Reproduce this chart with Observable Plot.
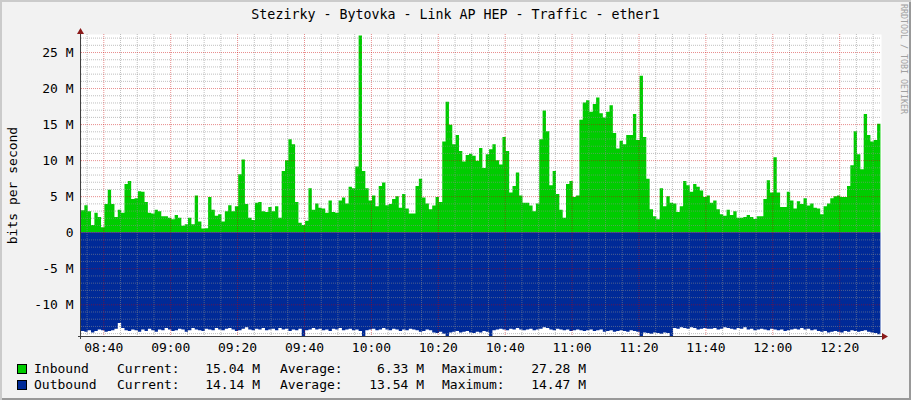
<!DOCTYPE html>
<html>
<head>
<meta charset="utf-8">
<script src="https://cdn.jsdelivr.net/npm/d3@7"></script>
<script src="https://cdn.jsdelivr.net/npm/@observablehq/plot@0.6"></script>
<style>
  html, body { margin: 0; padding: 0; background: #ffffff; }
  #wrap {
    position: relative; width: 911px; height: 400px; overflow: hidden;
    background: #f2f2f2;
    box-shadow: inset 2px 2px 0 #cbcbcb, inset -2px -2px 0 #999999;
    font-family: "DejaVu Sans Mono", monospace; font-size: 13px; color: #000;
  }
  #chart { position: absolute; left: 0; top: 0; }
  #title {
    position: absolute; left: 0; top: 6.5px; width: 911px; text-align: center;
    font-size: 13.3px; line-height: 16px; white-space: pre;
  }
  #mark {
    position: absolute; left: 899px; top: 4px; writing-mode: vertical-rl;
    font-size: 8.3px; line-height: 10px; color: #a0a0a0; white-space: pre;
  }
  .lg { position: absolute; line-height: 16px; white-space: pre; }
  .sw { position: absolute; width: 8px; height: 8px; border: 1px solid #000; }
</style>
</head>
<body>
<div id="wrap">
  <div id="title"></div>
  <div id="mark"></div>
  <div id="chart"></div>
</div>
<script>
// ---------- data ----------
const titleText = "Stezirky - Bytovka - Link AP HEP - Traffic - ether1";
const watermark = "RRDTOOL / TOBI OETIKER";
const yAxisLabel = "bits per second";
const startTime = [8, 33, 20];   // first sample (hh, mm, ss)
const stepMinutes = 1;

// Inbound traffic, Mbit/s, one value per minute
const inbound = [
  3.06, 3.75, 2.9, 1.0, 2.7, 2.1, 0.7, 3.9, 5.9, 3.9,
  2.1, 3.1, 2.7, 6.7, 7.1, 4.6, 4.7, 5.7, 5.6, 4.2,
  2.7, 2.6, 3.1, 2.9, 2.2, 2.2, 2.0, 1.8, 2.4, 2.0,
  0.9, 1.1, 2.0, 1.1, 5.1, 1.5, 0.5, 0.55, 4.9, 3.1,
  2.3, 2.5, 1.5, 2.9, 3.75, 2.9, 3.6, 8.05, 10.1, 3.9,
  2.0, 1.7, 4.1, 4.2, 2.9, 2.8, 3.5, 2.9, 3.6, 2.0,
  8.5, 10.0, 12.9, 12.2, 4.2, 1.3, 1.0, 1.6, 6.1, 3.1,
  4.0, 3.4, 3.3, 2.7, 4.4, 2.8, 2.7, 4.4, 4.8, 4.0,
  6.3, 6.1, 9.1, 27.28, 8.5, 6.1, 4.4, 5.1, 3.6, 6.4,
  6.9, 3.75, 3.9, 4.6, 5.0, 3.4, 5.3, 3.3, 2.6, 2.6,
  6.4, 7.4, 4.8, 4.0, 3.2, 3.7, 4.9, 4.2, 12.6, 18.1,
  14.9, 12.2, 13.5, 11.25, 9.8, 10.7, 10.9, 10.6, 9.9, 11.7,
  8.9, 10.8, 11.5, 12.2, 10.0, 9.4, 13.2, 11.25, 5.5, 6.4,
  8.3, 5.1, 4.1, 4.1, 3.7, 2.9, 4.0, 12.9, 16.9, 14.0,
  6.5, 8.5, 5.3, 3.1, 2.0, 6.7, 7.1, 4.9, 5.1, 15.6,
  18.0, 18.3, 16.7, 17.8, 18.7, 16.5, 15.9, 16.7, 17.6, 13.75,
  11.6, 12.7, 12.2, 13.5, 13.5, 16.4, 12.8, 21.7, 13.2, 7.4,
  3.2, 2.2, 1.8, 6.1, 3.6, 5.0, 4.1, 4.0, 2.8, 3.6,
  7.1, 6.5, 5.6, 6.7, 6.3, 5.8, 4.9, 5.1, 4.1, 4.4,
  3.2, 2.5, 2.3, 3.1, 2.4, 2.9, 2.0, 2.0, 2.1, 2.4,
  2.1, 1.85, 2.2, 2.2, 4.6, 7.2, 5.5, 10.4, 5.5, 3.5,
  3.5, 5.6, 4.4, 3.3, 4.3, 3.9, 4.7, 3.7, 4.0, 3.4,
  3.3, 2.5, 3.6, 4.0, 4.7, 5.0, 5.1, 4.9, 4.9, 6.4,
  9.3, 14.0, 10.8, 8.75, 16.4, 13.5, 12.6, 12.8, 15.04
];

// Outbound traffic, Mbit/s (drawn below zero), one value per minute
const outbound = [
  13.7, 13.8, 13.6, 13.9, 13.7, 13.5, 13.6, 13.8, 13.7, 13.6,
  13.4, 12.6, 13.3, 13.6, 13.7, 13.5, 13.6, 13.8, 13.5, 13.7,
  13.4, 13.6, 13.8, 13.5, 13.6, 13.3, 13.5, 13.7, 13.6, 13.4,
  13.5, 13.8, 13.6, 13.3, 13.5, 13.6, 13.7, 13.4, 13.5, 13.6,
  13.3, 13.5, 13.6, 13.4, 13.3, 13.5, 13.7, 13.6, 13.4, 13.2,
  13.5, 13.6, 13.4, 13.5, 13.3, 13.6, 13.5, 13.4, 13.6, 13.3,
  13.5, 13.4, 13.7, 13.5, 13.6, 13.4, 14.4, 13.6, 13.5, 13.3,
  13.5, 13.4, 13.6, 13.5, 13.7, 13.4, 13.5, 13.3, 13.6, 13.5,
  13.4, 13.6, 13.5, 13.7, 14.4, 13.6, 13.5, 13.4, 13.6, 13.5,
  13.3, 13.5, 13.6, 13.4, 13.5, 13.7, 13.5, 13.6, 13.4, 13.5,
  13.6, 13.8, 13.7, 13.5, 13.6, 13.9, 14.0, 13.8, 14.1, 14.4,
  13.9, 13.8, 13.7, 13.9, 13.8, 13.7, 13.9, 14.0, 13.8, 13.9,
  13.7, 13.8, 14.4, 13.6, 13.5, 13.4, 13.5, 13.6, 13.4, 13.5,
  13.3, 13.5, 13.6, 13.5, 13.4, 13.6, 13.5, 13.4, 13.2, 13.3,
  13.5, 13.6, 13.4, 13.5, 13.6, 13.5, 13.7, 13.6, 13.5, 13.6,
  13.7, 13.6, 13.5, 13.7, 13.6, 13.5, 13.8, 13.7, 13.6, 13.8,
  13.7, 13.6, 13.7, 13.8, 13.6, 13.7, 13.8, 14.4, 13.9, 14.0,
  14.1, 13.9, 14.0, 14.1, 13.9, 14.0, 14.4, 13.3, 13.4, 13.2,
  13.3, 13.4, 13.2, 13.3, 13.5, 13.4, 13.3, 13.4, 13.4, 13.3,
  13.5, 13.4, 13.2, 13.3, 13.4, 13.5, 13.3, 13.4, 13.2, 13.5,
  13.4, 13.6, 13.5, 13.4, 13.5, 13.6, 13.4, 13.5, 13.6, 13.5,
  13.7, 13.6, 13.5, 13.4, 13.5, 13.3, 13.5, 13.4, 13.6, 13.5,
  13.7, 13.8, 13.7, 13.9, 13.8, 13.7, 13.8, 13.9, 13.7, 13.8,
  13.6, 13.7, 13.8, 13.7, 13.6, 13.8, 13.9, 14.0, 14.14
];

const xTickLabels = ["08:40", "09:00", "09:20", "09:40", "10:00", "10:20",
                     "10:40", "11:00", "11:20", "11:40", "12:00", "12:20"];
const yTickValues = [-10, -5, 0, 5, 10, 15, 20, 25];

const seriesNames  = ["Inbound", "Outbound"];
const seriesColors = ["#00cc00", "#002a97"];
const currentText  = ["15.04 M", "14.14 M"];
const averageText  = ["6.33 M", "13.54 M"];
const maximumText  = ["27.28 M", "14.47 M"];

// ---------- build ----------
const day = (h, m, s = 0) => new Date(2024, 0, 15, h, m, s);
const t0 = day(...startTime);
const addMin = (t, k) => new Date(+t + k * stepMinutes * 60000);
const n = inbound.length;
const tEnd = new Date(+addMin(t0, n) + 10000);

function rows(values, sign) {
  const r = values.map((v, i) => ({t: addMin(t0, i), v: sign * v}));
  r.push({t: addMin(t0, values.length), v: sign * values[values.length - 1]});
  return r;
}
const inRows = rows(inbound, 1);
const outRows = rows(outbound, -1);

const xTicks = xTickLabels.map(s => day(+s.slice(0, 2), +s.slice(3, 5)));
const minorX = d3.timeMinute.every(5).range(t0, tEnd);
const yMin = -d3.max(outbound), yMax = 27.5;
const minorY = d3.range(Math.ceil(yMin), Math.floor(yMax) + 1);
const majorY = minorY.filter(d => d % 5 === 0);

const gridMinor = {stroke: "#8c8c8c", strokeOpacity: 0.55, strokeDasharray: "1,1"};
const gridMajor = {stroke: "#cc0000", strokeOpacity: 0.45, strokeDasharray: "1,1"};

const chart = Plot.plot({
  width: 911, height: 360,
  marginTop: 34, marginBottom: 24, marginLeft: 81, marginRight: 30,
  style: {background: "transparent", fontFamily: "'DejaVu Sans Mono', monospace", fontSize: "13px", color: "#000", overflow: "visible"},
  x: {type: "time", domain: [t0, tEnd]},
  y: {domain: [yMin, yMax]},
  marks: [
    Plot.frame({fill: "#ffffff", stroke: null}),
    Plot.areaY(inRows, {x: "t", y: "v", curve: "step-after", fill: seriesColors[0]}),
    Plot.areaY(outRows, {x: "t", y: "v", curve: "step-after", fill: seriesColors[1]}),
    Plot.ruleY(minorY.filter(d => d % 5 !== 0), gridMinor),
    Plot.ruleX(minorX.filter(d => d.getMinutes() % 20 !== 0), gridMinor),
    Plot.ruleY(majorY, gridMajor),
    Plot.ruleX(xTicks, gridMajor),
    Plot.axisX(xTicks, {tickSize: 0, tickPadding: 6, tickFormat: d3.timeFormat("%H:%M"), label: null, fill: "#000"}),
    Plot.axisY(yTickValues, {tickSize: 0, tickPadding: 8, tickFormat: d => d === 0 ? "0" : `${d} M`, label: null, fill: "#000"}),
    Plot.text([yAxisLabel], {frameAnchor: "left", dx: -69, rotate: -90, textAnchor: "middle", fontSize: 13, fill: "#000"})
  ]
});
document.getElementById("chart").appendChild(chart);

// axis lines and arrows (RRD style)
const xs = chart.scale("x"), ys = chart.scale("y");
const svg = d3.select(chart);
const xL = xs.apply(t0), xR = xs.apply(tEnd), yB = ys.apply(yMin), yT = ys.apply(yMax);
const g = svg.append("g");
g.append("line").attr("x1", xL - 3).attr("x2", xR + 2).attr("y1", yB + 0.5).attr("y2", yB + 0.5)
  .attr("stroke", "#404040").attr("stroke-width", 1);
g.append("line").attr("x1", xL - 0.5).attr("x2", xL - 0.5).attr("y1", yB + 3).attr("y2", yT - 2)
  .attr("stroke", "#404040").attr("stroke-width", 1);
g.append("path").attr("d", `M${xL - 0.5},${yT - 6} L${xL - 4},${yT} L${xL + 3},${yT} Z`).attr("fill", "#8b1a1a");
g.append("path").attr("d", `M${xR + 7},${yB + 0.5} L${xR + 1},${yB - 3} L${xR + 1},${yB + 4} Z`).attr("fill", "#8b1a1a");

// title, watermark
document.getElementById("title").textContent = titleText;
document.getElementById("mark").textContent = watermark;

// legend
const wrap = document.getElementById("wrap");
const baselines = [373, 389];
function addText(txt, opts) {
  const el = document.createElement("div");
  el.className = "lg";
  el.textContent = txt;
  Object.assign(el.style, opts);
  wrap.appendChild(el);
}
seriesNames.forEach((name, i) => {
  const top = baselines[i] - 12.5;
  const sw = document.createElement("div");
  sw.className = "sw";
  Object.assign(sw.style, {left: "17px", top: (baselines[i] - 9.5) + "px", background: seriesColors[i]});
  wrap.appendChild(sw);
  addText(name, {left: "34px", top: top + "px"});
  addText("Current:", {left: "117px", top: top + "px"});
  addText(currentText[i], {right: (911 - 260) + "px", top: top + "px"});
  addText("Average:", {left: "280px", top: top + "px"});
  addText(averageText[i], {right: (911 - 424) + "px", top: top + "px"});
  addText("Maximum:", {left: "442px", top: top + "px"});
  addText(maximumText[i], {right: (911 - 586) + "px", top: top + "px"});
});
</script>
</body>
</html>
